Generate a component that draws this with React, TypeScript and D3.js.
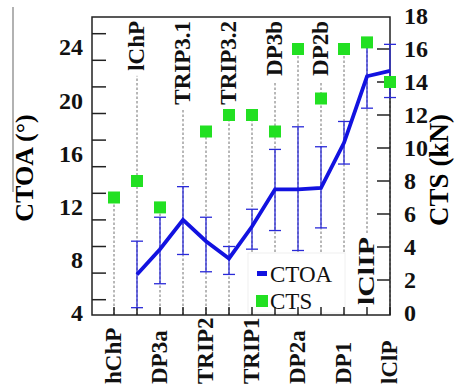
import * as d3 from 'd3';
import { useEffect, useRef } from 'react';

const categories = ['hChP', 'lChP', 'DP3a', 'TRIP3.1', 'TRIP2', 'TRIP3.2', 'TRIP1', 'DP3b', 'DP2a', 'DP2b', 'DP1', 'lClIP', 'lClP'];
const labelSide = ['bottom', 'top', 'bottom', 'top', 'bottom', 'top', 'bottom', 'top', 'bottom', 'top', 'bottom', 'inside', 'bottom'];

const ctoa = [null, 6.9, 8.8, 11.0, 9.4, 8.1, 10.5, 13.3, 13.3, 13.4, 16.8, 21.8, 22.2];
const ctoaLow = [null, 4.4, 6.2, 8.4, 7.1, 6.9, 8.8, 10.2, 8.7, 10.4, 15.2, 19.4, 20.2];
const ctoaHigh = [null, 9.4, 11.2, 13.5, 11.2, 9.0, 11.8, 16.3, 18.0, 16.5, 18.4, 24.2, 24.2];
const cts = [7, 8, 6.4, null, 11, 12, 12, 11, 16, 13, 16, 16.4, 14];

const leftLabels = [4, 8, 12, 16, 20, 24];
const leftTickValues = [5, 7, 9, 11, 13, 15, 17, 19, 21, 23, 25];
const rightLabels = [0, 2, 4, 6, 8, 10, 12, 14, 16, 18];
const rightTickValues = [2, 4, 6, 8, 10, 12, 14, 16];

const FONT = 'Liberation Serif, Times New Roman, Times, serif';
const BLUE = '#1212e0';
const GREEN = '#22e022';

export default function App() {
  const ref = useRef<SVGSVGElement>(null);

  useEffect(() => {
    const width = 470;
    const height = 387;
    const left = 92, right = 390, top = 17, bottom = 315;

    const svg = d3.select(ref.current);
    svg.selectAll('*').remove();
    svg.attr('width', width).attr('height', height).attr('font-family', FONT);

    svg.append('rect').attr('width', width).attr('height', height).attr('fill', '#fff');

    const x = d3.scalePoint<string>().domain(categories).range([114, 390]);
    const yL = d3.scaleLinear().domain([4, 24]).range([313, 47]);
    const yR = d3.scaleLinear().domain([0, 18]).range([313, 16]);

    /* ---------- stray crop line ---------- */
    svg.append('line')
      .attr('x1', 13).attr('x2', 13).attr('y1', 7).attr('y2', 192)
      .attr('stroke', '#999').attr('stroke-width', 1.5);

    /* ---------- category labels ---------- */
    const labels = svg.append('g')
      .attr('font-family', FONT)
      .attr('font-weight', 'bold')
      .attr('font-size', 23)
      .attr('fill', '#111');

    const labelExtent: Record<string, [number, number]> = {};
    categories.forEach((c, i) => {
      const side = labelSide[i];
      const cx = x(c)! - 1.5;
      let anchorY = 21, anchor = 'end';
      if (side === 'bottom') { anchorY = 384; anchor = 'start'; }
      if (side === 'inside') { anchorY = 305; anchor = 'start'; }
      const t = labels.append('text')
        .attr('transform', `translate(${cx},${anchorY}) rotate(-90)`)
        .attr('dy', '0.35em')
        .attr('text-anchor', anchor)
        .text(c);
      if (side === 'inside') t.attr('textLength', 68).attr('lengthAdjust', 'spacingAndGlyphs');
      const len = side === 'inside' ? 68 : (t.node() as SVGTextElement).getComputedTextLength();
      labelExtent[c] = anchor === 'end' ? [anchorY, anchorY + len] : [anchorY - len, anchorY];
    });

    /* ---------- dashed guide lines ---------- */
    categories.forEach((c, i) => {
      const side = labelSide[i];
      const sq = cts[i] != null ? yR(cts[i] as number) : bottom;
      let y1 = bottom, y2 = sq;
      if (side === 'top') y2 = Math.min(sq, labelExtent[c][1] + 5);
      if (side === 'inside') y1 = labelExtent[c][0] - 4;
      svg.append('line')
        .attr('x1', x(c)!).attr('x2', x(c)!)
        .attr('y1', y1).attr('y2', y2)
        .attr('stroke', '#707070').attr('stroke-width', 1)
        .attr('stroke-dasharray', '2.5,2');
    });

    /* ---------- legend box ---------- */
    svg.append('rect')
      .attr('x', 248).attr('y', 253).attr('width', 97).attr('height', 60)
      .attr('fill', '#fff').attr('stroke', '#f0f0f0');

    /* ---------- frame + ticks ---------- */
    svg.append('rect')
      .attr('x', left).attr('y', top).attr('width', right - left).attr('height', bottom - top)
      .attr('fill', 'none').attr('stroke', '#222').attr('stroke-width', 1.5);

    svg.selectAll('.ltick').data(leftTickValues).enter().append('line')
      .attr('x1', left).attr('x2', left + 14)
      .attr('y1', d => yL(d)).attr('y2', d => yL(d))
      .attr('stroke', '#222').attr('stroke-width', 1.5);

    svg.selectAll('.rtick').data(rightTickValues).enter().append('line')
      .attr('x1', right - 13).attr('x2', right)
      .attr('y1', d => yR(d)).attr('y2', d => yR(d))
      .attr('stroke', '#222').attr('stroke-width', 1.5);

    svg.selectAll('.btick').data(categories).enter().append('line')
      .attr('x1', d => x(d)!).attr('x2', d => x(d)!)
      .attr('y1', bottom).attr('y2', bottom - 8)
      .attr('stroke', '#222').attr('stroke-width', 1.5);

    const num = svg.append('g')
      .attr('font-family', FONT).attr('font-weight', 'bold').attr('font-size', 24)
      .attr('fill', '#111');
    num.selectAll('.ll').data(leftLabels).enter().append('text')
      .attr('x', 83).attr('y', d => yL(d)).attr('dy', '0.35em')
      .attr('text-anchor', 'end').text(d => d);
    num.selectAll('.rl').data(rightLabels).enter().append('text')
      .attr('x', 404).attr('y', d => yR(d)).attr('dy', '0.35em')
      .attr('text-anchor', 'start').text(d => d);

    /* ---------- axis titles ---------- */
    svg.append('text')
      .attr('transform', 'translate(24,168) rotate(-90)')
      .attr('dy', '0.35em').attr('text-anchor', 'middle')
      .attr('font-weight', 'bold').attr('font-size', 26)
      .text('CTOA (°)');
    svg.append('text')
      .attr('transform', 'translate(439,170) rotate(-90)')
      .attr('dy', '0.35em').attr('text-anchor', 'middle')
      .attr('font-weight', 'bold').attr('font-size', 27)
      .text('CTS (kN)');

    /* ---------- error bars ---------- */
    const eb = svg.append('g').attr('stroke', '#2a2ad8').attr('stroke-width', 1.3);
    categories.forEach((c, i) => {
      if (ctoa[i] == null) return;
      const cx = x(c)!;
      const lo = yL(ctoaLow[i] as number), hi = yL(ctoaHigh[i] as number);
      eb.append('line').attr('x1', cx).attr('x2', cx).attr('y1', lo).attr('y2', hi);
      eb.append('line').attr('x1', cx - 6).attr('x2', cx + 6).attr('y1', lo).attr('y2', lo);
      eb.append('line').attr('x1', cx - 6).attr('x2', cx + 6).attr('y1', hi).attr('y2', hi);
    });

    /* ---------- CTOA line ---------- */
    const line = d3.line<number | null>()
      .defined(d => d != null)
      .x((_, i) => x(categories[i])!)
      .y(d => yL(d as number));
    svg.append('path')
      .attr('d', line(ctoa))
      .attr('fill', 'none').attr('stroke', BLUE).attr('stroke-width', 3.8)
      .attr('stroke-linejoin', 'miter');

    /* ---------- CTS squares ---------- */
    const sqs = categories.map((c, i) => ({ c, v: cts[i] })).filter(d => d.v != null);
    svg.selectAll('.sq').data(sqs).enter().append('rect')
      .attr('x', d => x(d.c)! - 6).attr('y', d => yR(d.v as number) - 6)
      .attr('width', 12).attr('height', 12)
      .attr('fill', GREEN);

    /* ---------- legend ---------- */
    svg.append('rect').attr('x', 257).attr('y', 271).attr('width', 10).attr('height', 5).attr('fill', BLUE);
    svg.append('rect').attr('x', 256).attr('y', 295).attr('width', 12).attr('height', 12).attr('fill', GREEN);
    const lg = svg.append('g').attr('font-size', 23).attr('fill', '#111');
    lg.append('text').attr('x', 270).attr('y', 282).text('CTOA');
    lg.append('text').attr('x', 270).attr('y', 309).text('CTS');
  }, []);

  return (
    <svg ref={ref} style={{ position: 'absolute', left: 0, top: 0, display: 'block' }} />
  );
}
